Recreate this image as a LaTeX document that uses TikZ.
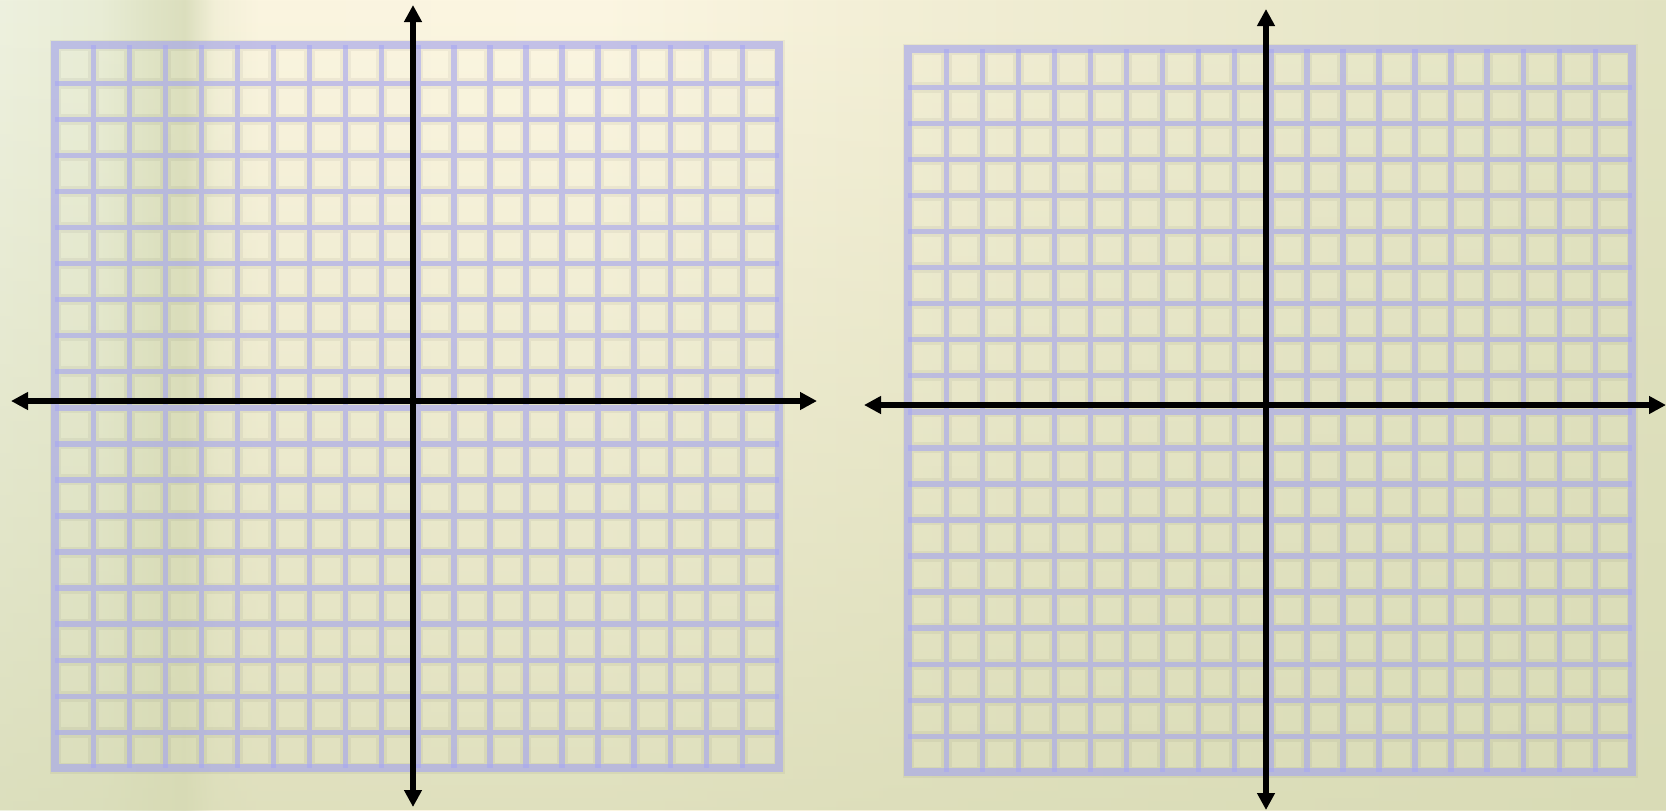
\documentclass[tikz,border=0pt]{standalone}
\usetikzlibrary{arrows.meta,fadings}
\definecolor{bga}{HTML}{EEF1DF}
\definecolor{bgb}{HTML}{E9EDD6}
\definecolor{bgc}{HTML}{E0E4C6}
\definecolor{bgd}{HTML}{DCDFBE}
\definecolor{bge}{HTML}{F3F0D8}
\definecolor{bgf}{HTML}{FBF5E0}
\definecolor{bgg}{HTML}{FCF6E2}
\definecolor{bgh}{HTML}{F3EFD6}
\definecolor{bgi}{HTML}{E2E3C2}
\definecolor{bgbottom}{HTML}{D6D9B2}
\definecolor{gridc}{RGB}{168,168,242}
\pgfdeclarehorizontalshading{bgshade}{100bp}{color(0bp)=(bga); color(25bp)=(bga); color(28bp)=(bgb); color(29.5bp)=(bgc); color(30.55bp)=(bgd); color(31.45bp)=(bge); color(32.8bp)=(bgf); color(43bp)=(bgg); color(52bp)=(bgh); color(75bp)=(bgi); color(100bp)=(bgi)}
\newcommand\gridpanel[2]{%
  \draw[cellshadow] (#1+4,#2+4) rectangle (#1+728,#2+727)
    foreach \k in {1,...,19} {(#1+6.2+36.06*\k,#2+4) -- (#1+6.2+36.06*\k,#2+727)
      (#1+4,#2+6.2+36.06*\k) -- (#1+728,#2+6.2+36.06*\k)};
  \draw[gridline] foreach \k in {1,...,19} {(#1+6.2+36.06*\k,#2+4) -- (#1+6.2+36.06*\k,#2+727)
      (#1+4,#2+6.2+36.06*\k) -- (#1+728,#2+6.2+36.06*\k)};
  \draw[gridborder] (#1+4,#2+4) rectangle (#1+728,#2+727);
}
\begin{document}
\begin{tikzpicture}[x=0.5pt,y=-0.5pt,
  cellshadow/.style={draw=black, draw opacity=0.045, line width=5.5pt},
  gridline/.style={draw=gridc, draw opacity=0.62, line width=2.7pt},
  gridborder/.style={draw=gridc, draw opacity=0.62, line width=4pt},
  axis/.style={line width=3.1pt, draw=black, {Triangle[width=8.5pt,length=8.5pt]}-{Triangle[width=8.5pt,length=8.5pt]}}]
\useasboundingbox (0,0) rectangle (1666,810);
\shade[shading=bgshade] (0,0) rectangle (1666,810);
\fill[bgbottom, path fading=north, fill opacity=0.75] (0,0) rectangle (1666,810);
% grids
\gridpanel{51}{41}
\gridpanel{904}{45}
% axes
\coordinate (LT) at (413,5);
\coordinate (LB) at (413,807);
\coordinate (LL) at (11,401);
\coordinate (LR) at (817,401);
\coordinate (RT) at (1266,9);
\coordinate (RB) at (1266,810);
\coordinate (RL) at (864,405);
\coordinate (RR) at (1666,405);
\draw[axis] (LB) -- (LT);
\draw[axis] (LL) -- (LR);
\draw[axis] (RB) -- (RT);
\draw[axis] (RL) -- (RR);
\end{tikzpicture}
\end{document}
